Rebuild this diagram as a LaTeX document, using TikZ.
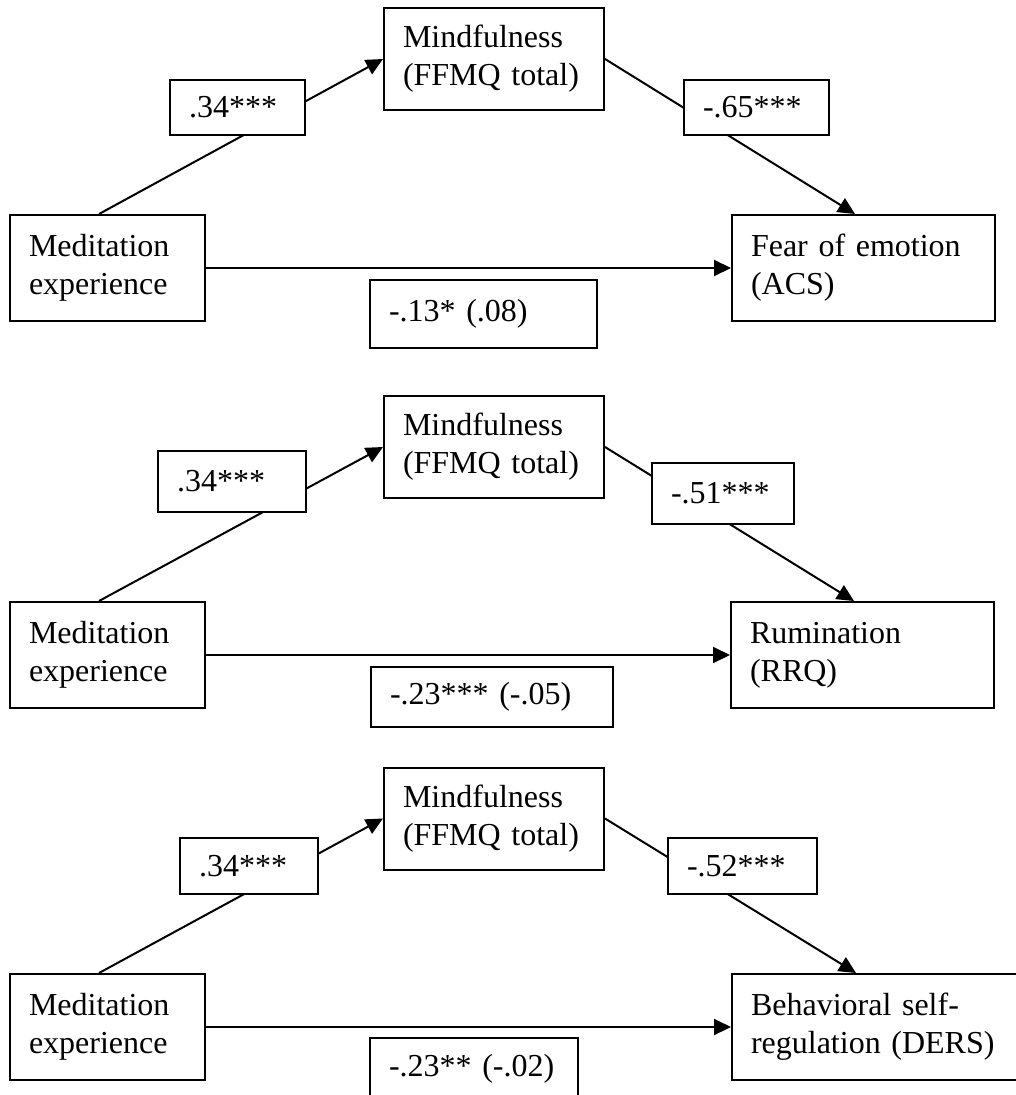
\documentclass[tikz,border=0pt]{standalone}
\usepackage{fontspec}
\setmainfont{Liberation Serif}
\usetikzlibrary{shapes,arrows,arrows.meta}

\begin{document}
\begin{tikzpicture}[x=1pt, y=-1pt, line width=2pt]
\tikzstyle{varbox}=[rectangle, draw, fill=white, inner xsep=19pt, inner ysep=0pt, align=left, font=\fontsize{32}{38}\selectfont]
\tikzstyle{coefbox}=[rectangle, draw, fill=white, inner xsep=19pt, inner ysep=0pt, align=left, font=\fontsize{32}{38}\selectfont]
\tikzstyle{drawstyle}=[line width=2pt, -{Triangle[length=17pt, width=16pt]}]

\useasboundingbox (0,0) rectangle (1016,1095);
\clip (0,0) rectangle (1016,1095);
\fill[white] (0,0) rectangle (1016,1095);

% panel 1
\node[varbox, text width=157pt, minimum height=106pt] (P1med) at (107.5,268) {Meditation\\experience};
\node[varbox, text width=182pt, minimum height=102pt] (P1mind) at (494,59) {Mindfulness\\(FFMQ total)};
\node[varbox, text width=225pt, minimum height=106pt] (P1out) at (863.5,268) {Fear of emotion\\(ACS)};
\draw[drawstyle] ([xshift=90pt]P1med.north west) -- (P1mind.west);
\draw[drawstyle] (P1mind.east) -- ([xshift=124pt]P1out.north west);
\draw[drawstyle] (P1med) -- (P1out);
\node[coefbox, text width=97pt, minimum height=55pt] (P1a) at (237.5,107.5) {.34***};
\node[coefbox, text width=107pt, minimum height=55pt] (P1b) at (756.5,107.5) {-.65***};
\node[coefbox, text width=189pt, minimum height=68pt] (P1c) at (483.5,314) {-.13* (.08)};

% panel 2
\node[varbox, text width=157pt, minimum height=106pt] (P2med) at (107.5,655) {Meditation\\experience};
\node[varbox, text width=182pt, minimum height=102pt] (P2mind) at (494,447) {Mindfulness\\(FFMQ total)};
\node[varbox, text width=225pt, minimum height=106pt] (P2out) at (862.5,655) {Rumination\\(RRQ)};
\draw[drawstyle] ([xshift=90pt]P2med.north west) -- (P2mind.west);
\draw[drawstyle] (P2mind.east) -- ([xshift=124pt]P2out.north west);
\draw[drawstyle] (P2med) -- (P2out);
\node[coefbox, text width=110pt, minimum height=61pt] (P2a) at (232,481.5) {.34***};
\node[coefbox, text width=104pt, minimum height=61pt] (P2b) at (723,493.5) {-.51***};
\node[coefbox, text width=204pt, minimum height=60pt] (P2c) at (492,697) {-.23*** (-.05)};

% panel 3
\node[varbox, text width=157pt, minimum height=106pt] (P3med) at (107.5,1027) {Meditation\\experience};
\node[varbox, text width=182pt, minimum height=102pt] (P3mind) at (494,818.5) {Mindfulness\\(FFMQ total)};
\node[varbox, text width=262pt, minimum height=106pt] (P3out) at (882,1027) {Behavioral self-\\regulation (DERS)};
\draw[drawstyle] ([xshift=90pt]P3med.north west) -- (P3mind.west);
\draw[drawstyle] (P3mind.east) -- ([xshift=125pt]P3out.north west);
\draw[drawstyle] (P3med) -- (P3out);
\node[coefbox, text width=100pt, minimum height=56pt] (P3a) at (249,866) {.34***};
\node[coefbox, text width=111pt, minimum height=56pt] (P3b) at (742.5,866) {-.52***};
\node[coefbox, text width=170pt, minimum height=62pt] (P3c) at (474,1069) {-.23** (-.02)};
\end{tikzpicture}
\end{document}
